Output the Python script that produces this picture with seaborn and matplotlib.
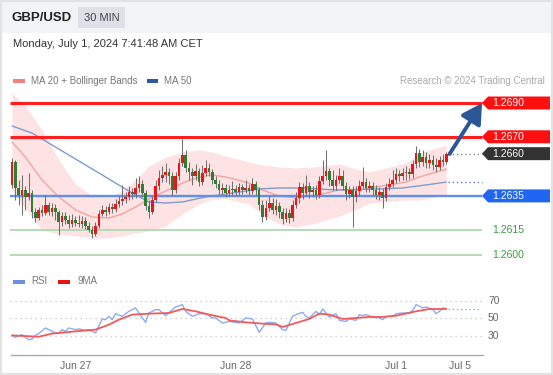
import matplotlib
matplotlib.use("Agg")
import matplotlib.pyplot as plt
import numpy as np
import seaborn as sns
from matplotlib.patches import Rectangle, Polygon

# ---------------- data ----------------
symbol = "GBP/USD"
timeframe = "30 MIN"
timestamp = "Monday, July 1, 2024 7:41:48 AM CET"

opens = [1.26415, 1.26551, 1.26397, 1.26355, 1.26385, 1.26344, 1.26367, 1.26255, 1.26219, 1.26267,
         1.26249, 1.26296, 1.26255, 1.26278, 1.26255, 1.26196, 1.26231, 1.26207, 1.26184, 1.26207,
         1.26190, 1.26184, 1.26201, 1.26172, 1.26148, 1.26124, 1.26172, 1.26243, 1.26267, 1.26255,
         1.26284, 1.26272, 1.26302, 1.26320, 1.26332, 1.26344, 1.26373, 1.26361, 1.26397, 1.26420,
         1.26367, 1.26290, 1.26255, 1.26326, 1.26409, 1.26456, 1.26474, 1.26492, 1.26468, 1.26385,
         1.26468, 1.26545, 1.26592, 1.26515, 1.26492, 1.26468, 1.26497, 1.26432, 1.26486, 1.26515,
         1.26492, 1.26444, 1.26420, 1.26385, 1.26397, 1.26367, 1.26385, 1.26391, 1.26373, 1.26403,
         1.26385, 1.26397, 1.26379, 1.26420, 1.26385, 1.26296, 1.26225, 1.26278, 1.26308, 1.26267,
         1.26290, 1.26255, 1.26213, 1.26249, 1.26219, 1.26296, 1.26338, 1.26403, 1.26367, 1.26409,
         1.26373, 1.26385, 1.26355, 1.26438, 1.26468, 1.26497, 1.26444, 1.26409, 1.26444, 1.26468,
         1.26409, 1.26361, 1.26385, 1.26344, 1.26379, 1.26409, 1.26432, 1.26397, 1.26409, 1.26385,
         1.26355, 1.26373, 1.26338, 1.26403, 1.26420, 1.26444, 1.26480, 1.26468, 1.26486, 1.26492,
         1.26480, 1.26539, 1.26604, 1.26551, 1.26580, 1.26545, 1.26563, 1.26533, 1.26521, 1.26563,
         1.26551]
highs = [1.26574, 1.26563, 1.26444, 1.26474, 1.26409, 1.26486, 1.26385, 1.26278, 1.26284, 1.26296,
         1.26355, 1.26314, 1.26308, 1.26302, 1.26267, 1.26255, 1.26255, 1.26237, 1.26243, 1.26231,
         1.26237, 1.26231, 1.26225, 1.26196, 1.26172, 1.26196, 1.26267, 1.26296, 1.26290, 1.26308,
         1.26308, 1.26332, 1.26350, 1.26415, 1.26373, 1.26409, 1.26397, 1.26456, 1.26468, 1.26444,
         1.26385, 1.26326, 1.26350, 1.26444, 1.26504, 1.26527, 1.26545, 1.26515, 1.26492, 1.26492,
         1.26574, 1.26687, 1.26622, 1.26551, 1.26515, 1.26539, 1.26515, 1.26533, 1.26563, 1.26545,
         1.26509, 1.26468, 1.26444, 1.26426, 1.26420, 1.26415, 1.26438, 1.26415, 1.26426, 1.26420,
         1.26444, 1.26420, 1.26456, 1.26438, 1.26403, 1.26326, 1.26326, 1.26350, 1.26338, 1.26332,
         1.26314, 1.26278, 1.26278, 1.26272, 1.26326, 1.26373, 1.26432, 1.26426, 1.26474, 1.26432,
         1.26409, 1.26415, 1.26468, 1.26563, 1.26622, 1.26515, 1.26504, 1.26474, 1.26515, 1.26504,
         1.26432, 1.26409, 1.26409, 1.26409, 1.26444, 1.26521, 1.26456, 1.26438, 1.26432, 1.26415,
         1.26403, 1.26397, 1.26426, 1.26456, 1.26504, 1.26515, 1.26504, 1.26515, 1.26527, 1.26515,
         1.26563, 1.26645, 1.26627, 1.26622, 1.26610, 1.26598, 1.26592, 1.26574, 1.26586, 1.26598,
         1.26610]
lows = [1.26397, 1.26326, 1.26296, 1.26237, 1.26267, 1.26326, 1.26219, 1.26196, 1.26207, 1.26231,
        1.26237, 1.26237, 1.26231, 1.26207, 1.26119, 1.26172, 1.26184, 1.26160, 1.26166, 1.26172,
        1.26166, 1.26160, 1.26154, 1.26136, 1.26101, 1.26113, 1.26160, 1.26231, 1.26231, 1.26243,
        1.26249, 1.26255, 1.26284, 1.26296, 1.26308, 1.26326, 1.26332, 1.26338, 1.26373, 1.26344,
        1.26267, 1.26219, 1.26243, 1.26314, 1.26385, 1.26432, 1.26432, 1.26420, 1.26350, 1.26367,
        1.26444, 1.26527, 1.26492, 1.26444, 1.26415, 1.26444, 1.26409, 1.26415, 1.26468, 1.26468,
        1.26420, 1.26397, 1.26361, 1.26361, 1.26344, 1.26350, 1.26350, 1.26350, 1.26355, 1.26361,
        1.26367, 1.26355, 1.26361, 1.26355, 1.26267, 1.26196, 1.26207, 1.26261, 1.26243, 1.26237,
        1.26219, 1.26184, 1.26196, 1.26190, 1.26201, 1.26278, 1.26308, 1.26332, 1.26350, 1.26338,
        1.26344, 1.26332, 1.26338, 1.26420, 1.26444, 1.26409, 1.26385, 1.26385, 1.26426, 1.26385,
        1.26326, 1.26338, 1.26166, 1.26314, 1.26350, 1.26397, 1.26373, 1.26373, 1.26355, 1.26332,
        1.26326, 1.26278, 1.26320, 1.26385, 1.26403, 1.26426, 1.26438, 1.26444, 1.26444, 1.26450,
        1.26456, 1.26515, 1.26521, 1.26527, 1.26515, 1.26515, 1.26504, 1.26492, 1.26504, 1.26527,
        1.26539]
closes = [1.26551, 1.26397, 1.26355, 1.26385, 1.26344, 1.26367, 1.26255, 1.26219, 1.26267, 1.26249,
          1.26296, 1.26255, 1.26278, 1.26255, 1.26196, 1.26231, 1.26207, 1.26184, 1.26207, 1.26190,
          1.26184, 1.26201, 1.26172, 1.26148, 1.26124, 1.26172, 1.26243, 1.26267, 1.26255, 1.26284,
          1.26272, 1.26302, 1.26320, 1.26332, 1.26344, 1.26373, 1.26361, 1.26397, 1.26420, 1.26367,
          1.26290, 1.26255, 1.26326, 1.26409, 1.26456, 1.26474, 1.26492, 1.26468, 1.26385, 1.26468,
          1.26545, 1.26592, 1.26515, 1.26492, 1.26468, 1.26497, 1.26432, 1.26486, 1.26515, 1.26492,
          1.26444, 1.26420, 1.26385, 1.26397, 1.26367, 1.26385, 1.26391, 1.26373, 1.26403, 1.26385,
          1.26397, 1.26379, 1.26420, 1.26385, 1.26296, 1.26225, 1.26278, 1.26308, 1.26267, 1.26290,
          1.26255, 1.26213, 1.26249, 1.26219, 1.26296, 1.26338, 1.26403, 1.26367, 1.26409, 1.26373,
          1.26385, 1.26355, 1.26438, 1.26468, 1.26497, 1.26444, 1.26409, 1.26444, 1.26468, 1.26409,
          1.26361, 1.26385, 1.26344, 1.26379, 1.26409, 1.26432, 1.26397, 1.26409, 1.26385, 1.26355,
          1.26373, 1.26338, 1.26403, 1.26420, 1.26444, 1.26480, 1.26468, 1.26486, 1.26492, 1.26480,
          1.26539, 1.26604, 1.26551, 1.26580, 1.26545, 1.26563, 1.26533, 1.26521, 1.26563, 1.26551,
          1.26598]

# Bollinger (MA20 +/- bands) read at sampled bars
band_idx = [0, 4, 9, 14, 19, 24, 29, 33, 37, 41, 46, 51, 56, 60, 64, 71, 75, 80, 85, 90, 98, 104, 107, 118, 122, 130]
bb_upper = [1.26959, 1.26882, 1.26740, 1.26563, 1.26420, 1.26349, 1.26344, 1.26379, 1.26444, 1.26527,
            1.26580, 1.26610, 1.26622, 1.26610, 1.26586, 1.26551, 1.26533, 1.26521, 1.26515, 1.26521,
            1.26539, 1.26503, 1.26492, 1.26545, 1.26604, 1.26651]
ma20 = [1.26669, 1.26580, 1.26444, 1.26344, 1.26267, 1.26225, 1.26219, 1.26243, 1.26284, 1.26332,
        1.26379, 1.26426, 1.26462, 1.26474, 1.26462, 1.26426, 1.26385, 1.26349, 1.26338, 1.26349,
        1.26385, 1.26385, 1.26397, 1.26432, 1.26462, 1.26509]
bb_lower = [1.26379, 1.26278, 1.26148, 1.26124, 1.26113, 1.26101, 1.26101, 1.26113, 1.26130, 1.26142,
            1.26172, 1.26243, 1.26302, 1.26332, 1.26332, 1.26302, 1.26237, 1.26184, 1.26166, 1.26184,
            1.26231, 1.26278, 1.26308, 1.26326, 1.26326, 1.26355]

ma50_idx = [0, 6, 11, 16, 21, 26, 31, 36, 41, 46, 51, 58, 66, 74, 80, 87, 97, 110, 117, 124, 130]
ma50 = [1.26764, 1.26722, 1.26663, 1.26604, 1.26545, 1.26486, 1.26426, 1.26367, 1.26314, 1.26308,
        1.26314, 1.26344, 1.26367, 1.26391, 1.26397, 1.26397, 1.26385, 1.26391, 1.26397, 1.26415,
        1.26432]

resistance_levels = [1.2690, 1.2670]
last_level = 1.2660
pivot_level = 1.2635
support_levels = [1.2615, 1.2600]

rsi_idx = [0, 1, 3, 4, 5, 6, 7, 8, 10, 11, 13, 14, 15, 16, 17, 19, 20, 22, 23, 25, 27, 28, 29, 30, 31, 33,
           35, 37, 38, 40, 41, 43, 44, 46, 48, 49, 51, 52, 54, 56, 58, 60, 61, 63, 65, 68, 70, 72, 74, 76,
           77, 79, 81, 82, 84, 85, 87, 88, 89, 91, 92, 93, 94, 95, 97, 98, 100, 101, 103, 104, 105, 106,
           108, 110, 111, 112, 114, 115, 117, 119, 120, 121, 123, 124, 126, 127, 128, 129, 130]
rsi = [30.4, 28.1, 31.2, 28.1, 25.4, 26.2, 30.4, 32.4, 38.9, 37.0, 33.2, 32.4, 37.0, 35.0, 38.9, 37.0,
       37.8, 36.2, 37.0, 33.2, 49.3, 48.5, 52.3, 48.5, 55.4, 52.3, 58.1, 62.0, 56.2, 45.4, 56.2, 60.0,
       60.0, 53.1, 60.0, 63.1, 65.8, 58.1, 52.3, 55.4, 55.4, 50.4, 50.4, 44.6, 46.5, 44.6, 50.4, 49.3,
       33.9, 44.6, 45.4, 44.6, 37.0, 36.2, 52.3, 54.3, 56.9, 52.3, 50.4, 58.1, 54.3, 60.8, 56.2, 51.6,
       55.4, 47.7, 46.5, 49.3, 47.7, 54.3, 53.1, 54.3, 51.6, 50.4, 48.5, 52.3, 52.3, 55.4, 56.2, 56.2,
       59.2, 65.8, 62.0, 63.1, 60.0, 55.4, 58.1, 62.0, 61.2]
rsi_ma_idx = [0, 8, 12, 19, 25, 29, 32, 36, 41, 47, 51, 55, 59, 64, 65, 70, 75, 79, 81, 85, 89, 92, 95,
              99, 103, 107, 111, 115, 121, 125, 130]
rsi_ma = [30.4, 28.8, 32.4, 35.0, 37.0, 42.7, 48.5, 54.3, 55.4, 56.2, 60.8, 58.1, 54.3, 50.4, 47.7, 45.4,
          43.9, 43.1, 40.1, 44.6, 49.3, 55.4, 54.3, 49.3, 50.4, 51.6, 51.6, 53.1, 58.1, 60.8, 60.8]
rsi_levels = [30, 50, 70]

date_pos = [19, 67, 115, 134]
date_labels = ["Jun 27", "Jun 28", "Jul 1", "Jul 5"]

# ---------------- style ----------------
sns.set_style("white")
plt.rcParams['font.family'] = ['Liberation Sans', 'DejaVu Sans']

W, H = 553, 375
fig = plt.figure(figsize=(W / 100, H / 100), dpi=100)
fig.patch.set_facecolor('white')

def fx(px):
    return px / W

def fy(py):
    return 1 - py / H

# pixel geometry of the bar axis / price axis
X0, DX = 12.0, 3.34          # bar 0 centre, px per bar
P_REF, Y_REF, PPX = 1.2690, 103.0, 0.0000592

def bx(px):
    return (px - X0) / DX

def py2p(py):
    return P_REF - (py - Y_REF) * PPX

# header band
fig.patches.append(Rectangle((0, fy(33)), 1, 1 - fy(33), transform=fig.transFigure,
                             facecolor='#f2f3f5', edgecolor='none', zorder=0))
fig.patches.append(Rectangle((fx(78), fy(28)), fx(125) - fx(78), fy(7) - fy(28), transform=fig.transFigure,
                             facecolor='#dde1e7', edgecolor='none', zorder=1))
fig.patches.append(Rectangle((0, 0), 1, 1, transform=fig.transFigure, fill=False,
                             edgecolor='#e3e3e3', lw=3, zorder=10))
fig.text(fx(11), fy(18), symbol, fontsize=9.5, fontweight='bold', color='#222222', va='center')
fig.text(fx(101.5), fy(18), timeframe, fontsize=8, color='#444444', va='center', ha='center')
fig.text(fx(13), fy(44), timestamp, fontsize=8, color='#333333', va='center')

# legends
fig.patches.append(Rectangle((fx(13), fy(83)), fx(25) - fx(13), fy(79) - fy(83), transform=fig.transFigure,
                             facecolor='#f47f7f', edgecolor='none'))
fig.text(fx(31), fy(81), "MA 20 + Bollinger Bands", fontsize=7, color='#777777', va='center')
fig.patches.append(Rectangle((fx(147), fy(83)), fx(158) - fx(147), fy(79) - fy(83), transform=fig.transFigure,
                             facecolor='#2c5aa0', edgecolor='none'))
fig.text(fx(164), fy(81), "MA 50", fontsize=7, color='#777777', va='center')
fig.text(fx(545), fy(81), "Research \u00a9 2024 Trading Central", fontsize=7, color='#aaaaaa',
         va='center', ha='right')

fig.patches.append(Rectangle((fx(13), fy(283.5)), fx(25) - fx(13), fy(279.5) - fy(283.5), transform=fig.transFigure,
                             facecolor='#6a8fe6', edgecolor='none'))
fig.text(fx(31), fy(281.5), "RSI", fontsize=7, color='#777777', va='center')
fig.patches.append(Rectangle((fx(58), fy(283.5)), fx(70) - fx(58), fy(279.5) - fy(283.5), transform=fig.transFigure,
                             facecolor='#ee1111', edgecolor='none'))
fig.text(fx(77), fy(281.5), "9MA", fontsize=7, color='#777777', va='center')

# ---------------- main price panel ----------------
ax = fig.add_axes([fx(10), fy(262), fx(553) - fx(10), fy(93) - fy(262)])
ax.set_xlim(bx(10), bx(553))
ax.set_ylim(py2p(262), py2p(93))
ax.axis('off')

idx = np.arange(len(closes))
o = np.array(opens); c = np.array(closes); h = np.array(highs); l = np.array(lows)

ax.fill_between(band_idx, bb_lower, bb_upper, color='#fde3e3', lw=0, zorder=1)
sns.lineplot(x=band_idx, y=ma20, ax=ax, color='#f4a3a3', lw=1.0, zorder=2, legend=False)
sns.lineplot(x=ma50_idx, y=ma50, ax=ax, color='#7f9bd0', lw=1.0, zorder=2, legend=False)

ax.hlines(resistance_levels, bx(10), bx(482), colors='#ff1f1f', lw=2.2, zorder=2.5)
ax.hlines([pivot_level], bx(10), bx(482), colors='#5f8fef', lw=1.7, zorder=2.5)
ax.hlines(support_levels, bx(10), bx(482), colors='#b0dab0', lw=1.3, zorder=2.5)

up = c >= o
body_lo = np.minimum(o, c)
body_h = np.maximum(np.abs(c - o), 0.00003)
ax.vlines(idx, l, h, color='#707070', lw=0.75, zorder=3)
ax.bar(idx, body_h, bottom=body_lo, width=0.8,
       color=np.where(up, '#e8161b', '#2e7d32'), lw=0, zorder=4)

# dotted extensions
ax.hlines([closes[-1]], idx[-1] + 0.6, bx(482), colors='#888888', lw=1.0, linestyles=(0, (1, 2)), zorder=3)
ax.hlines([ma50[-1]], ma50_idx[-1] + 0.6, bx(482), colors='#5a7cc8', lw=1.0, linestyles=(0, (1, 2)), zorder=3)

# forecast arrow
ax.annotate('', xy=(bx(482), resistance_levels[0]), xytext=(idx[-1] + 1.0, closes[-1]),
            arrowprops=dict(arrowstyle='-|>,head_length=0.6,head_width=0.34', color='#2b5797',
                            lw=2.8, shrinkA=0, shrinkB=0, mutation_scale=20), zorder=6)

# price tags
def tag(price, color):
    hh = 6.5 * PPX
    pts = [(bx(482), price), (bx(488), price + hh), (bx(550), price + hh),
           (bx(550), price - hh), (bx(488), price - hh)]
    ax.add_patch(Polygon(pts, closed=True, facecolor=color, edgecolor='none', zorder=7, clip_on=False))
    ax.text(bx(492), price, f"{price:.4f}", color='white', fontsize=7.5, va='center', ha='left', zorder=8)

for lv in resistance_levels:
    tag(lv, '#ff1010')
tag(last_level, '#333333')
tag(pivot_level, '#1f66f0')
for lv in support_levels:
    ax.text(bx(492), lv, f"{lv:.4f}", color='#3d9b3d', fontsize=7.5, va='center', ha='left')

# ---------------- RSI panel ----------------
ax2 = fig.add_axes([fx(10), fy(355), fx(553) - fx(10), fy(290) - fy(355)])
ax2.set_xlim(bx(10), bx(553))
ax2.set_ylim(30 - (355 - 335.7) / 0.8675, 70 + (301 - 290) / 0.8675)
ax2.set_facecolor('none')
for s in ['top', 'right', 'left']:
    ax2.spines[s].set_visible(False)
ax2.spines['bottom'].set_color('#aaaaaa')
ax2.spines['bottom'].set_linewidth(1.0)
ax2.spines['bottom'].set_bounds(bx(10.5), bx(483))
ax2.set_yticks([])
ax2.set_xticks([bx(10.5), bx(483)])
ax2.set_xticklabels(['', ''])
ax2.tick_params(axis='x', which='major', direction='in', length=4, color='#aaaaaa', width=1.0)
ax2.set_xticks(date_pos, minor=True)
ax2.set_xticklabels(date_labels, minor=True, fontsize=7.5, color='#666666')
ax2.tick_params(axis='x', which='minor', length=0, pad=4)

ax2.hlines(rsi_levels, bx(10), bx(483), colors='#c4c4c4', lw=0.9, linestyles=(0, (1, 3)), zorder=1)
for lv in rsi_levels:
    ax2.text(bx(488), lv, str(lv), fontsize=7.5, color='#666666', va='center', ha='left')

sns.lineplot(x=rsi_idx, y=rsi, ax=ax2, color='#8eaaf0', lw=1.0, zorder=3, legend=False)
sns.lineplot(x=rsi_ma_idx, y=rsi_ma, ax=ax2, color='#f05a5a', lw=1.3, zorder=4, legend=False)
ax2.hlines([rsi[-1]], rsi_idx[-1] + 0.5, bx(480), colors='#8eaaf0', lw=1.0, linestyles=(0, (1, 2)), zorder=2)
ax2.set_xlabel('')
ax2.set_ylabel('')
ax.set_xlabel('')
ax.set_ylabel('')

fig.savefig('out.png', dpi=100)
